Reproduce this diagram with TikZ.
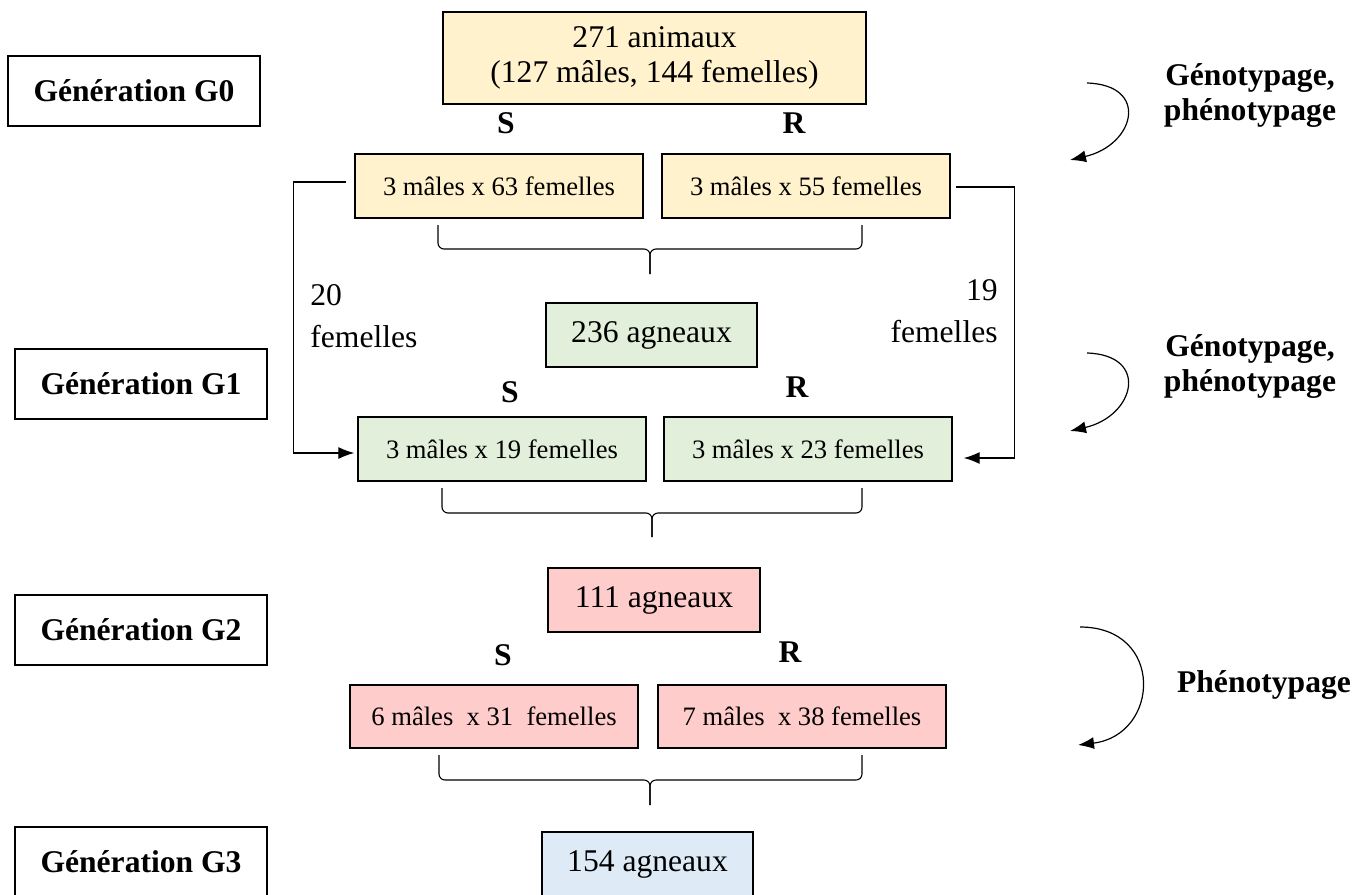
\documentclass[tikz,border=0pt]{standalone}
\usepackage{fontspec}
\setmainfont{Liberation Serif}
\usetikzlibrary{arrows.meta}
\definecolor{yellowbox}{HTML}{FFF2CC}
\definecolor{greenbox}{HTML}{E2EFDA}
\definecolor{pinkbox}{HTML}{FFCCCC}
\definecolor{bluebox}{HTML}{DEEBF7}
\newcommand{\bigtxt}{\fontsize{15.8}{17.5}\selectfont}
\newcommand{\smalltxt}{\fontsize{13.3}{16}\selectfont}
\tikzset{
  box/.style={draw, line width=0.7pt, inner sep=0pt, minimum height=32pt, font=\bigtxt},
  gen/.style={box, minimum width=126pt, minimum height=35pt, font=\bigtxt\bfseries},
  pair/.style={box, minimum width=144pt, font=\smalltxt},
  side/.style={font=\bigtxt\bfseries, inner sep=0pt},
  lbl/.style={font=\fontsize{15.8}{21}\selectfont, inner sep=0pt},
  arr/.style={-{Latex[length=8pt,width=6pt]}, line width=0.6pt},
  brc/.style={line width=0.55pt, rounded corners=3pt},
}
\begin{document}
\begin{tikzpicture}[x=0.5pt,y=-0.5pt]
    \useasboundingbox (0,0) rectangle (1370,894);
    % generations on the left
    \node[gen] (g0) at (134,91) {Génération G0};
    \node[gen] (g1) at (141,384) {Génération G1};
    \node[gen] (g2) at (141,630) {Génération G2};
    \node[gen] (g3) at (141,862) {Génération G3};
    % G0
    \node[box, fill=yellowbox, minimum width=211.5pt, minimum height=46pt, align=center] (animaux) at (654.5,58) {271 animaux\\(127 mâles, 144 femelles)};
    \node[side] (s0) at (506,123) {S};
    \node[side] (r0) at (794,123) {R};
    \node[pair, fill=yellowbox] (ys) at (499,186) {3 mâles x 63 femelles};
    \node[pair, fill=yellowbox] (yr) at (806,186) {3 mâles x 55 femelles};
    \draw[brc] (438,225) |- (650,249) -- (650,274);
    \draw[brc] (862,225) |- (650,249) -- (650,274);
    % G1
    \node[lbl, align=left, anchor=west] (f20) at (310,316) {20\\femelles};
    \node[lbl, align=right, anchor=east] (f19) at (998,311) {19\\femelles};
    \node[box, fill=greenbox, minimum width=105.5pt] (a236) at (651.5,335) {236 agneaux};
    \node[side] (s1) at (510,392) {S};
    \node[side] (r1) at (797,387) {R};
    \node[pair, fill=greenbox] (gs) at (502,449) {3 mâles x 19 femelles};
    \node[pair, fill=greenbox] (gr) at (808,449) {3 mâles x 23 femelles};
    \draw[arr, shorten <=4pt, shorten >=1.5pt] ([yshift=2pt]ys.west) -- ++(-61,0) |- ([yshift=-2pt]gs.west);
    \draw[arr, shorten <=2.5pt, shorten >=5.5pt] ([yshift=-0.5pt]yr.east) -- ++(64,0) |- ([yshift=-4.5pt]gr.east);
    \draw[brc] (442,488) |- (652,513) -- (652,537);
    \draw[brc] (862,488) |- (652,513) -- (652,537);
    % G2
    \node[box, fill=pinkbox, minimum width=106pt] (a111) at (654,600) {111 agneaux};
    \node[side] (s2) at (503,655) {S};
    \node[side] (r2) at (790,652) {R};
    \node[pair, fill=pinkbox, minimum height=31.5pt] (ps) at (494,716.5) {6 mâles\ \ x 31\ \ femelles};
    \node[pair, fill=pinkbox, minimum height=31.5pt] (pr) at (802,716.5) {7 mâles\ \ x 38 femelles};
    \draw[brc] (439,755) |- (650,780) -- (650,805);
    \draw[brc] (862,755) |- (650,780) -- (650,805);
    % G3
    \node[box, fill=bluebox, minimum width=105.5pt] (a154) at (647.5,864) {154 agneaux};
    % steps on the right
    \node[side, align=center] (t0) at (1250,96) {Génotypage,\\phénotypage};
    \node[side, align=center] (t1) at (1250,367) {Génotypage,\\phénotypage};
    \node[side] (t2) at (1264,685) {Phénotypage};
    \coordinate (c0a) at (1087,83);
    \coordinate (c0b) at (1070,160);
    \coordinate (c1a) at (1087,353);
    \coordinate (c1b) at (1070,431);
    \coordinate (c2a) at (1080,627);
    \coordinate (c2b) at (1078,745);
    \draw[arr] (c0a) .. controls (1150,85) and (1135,145) .. (c0b);
    \draw[arr] (c1a) .. controls (1150,355) and (1135,416) .. (c1b);
    \draw[arr] (c2a) .. controls (1165,627) and (1160,735) .. (c2b);
\end{tikzpicture}
\end{document}
